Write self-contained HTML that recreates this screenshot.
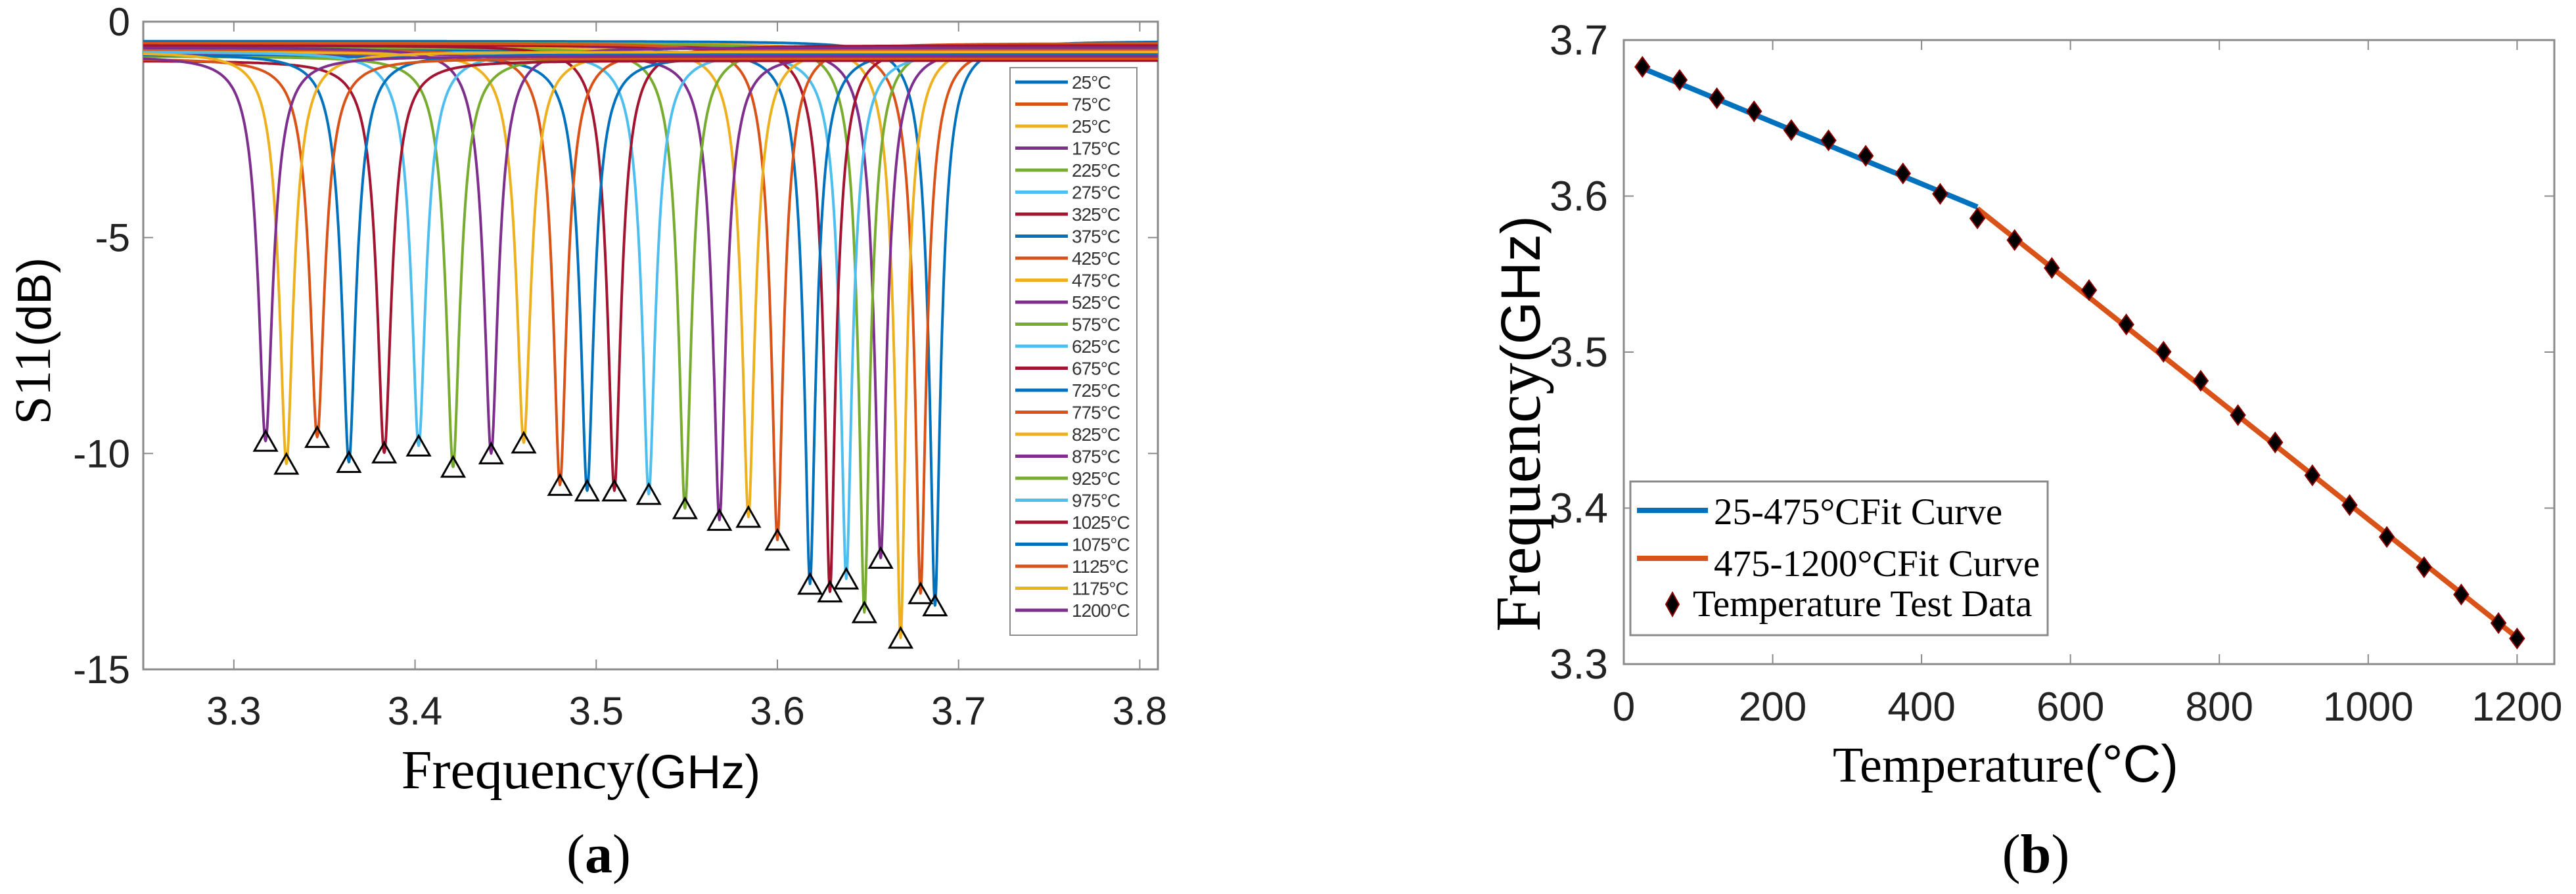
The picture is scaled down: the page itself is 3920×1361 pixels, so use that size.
<!DOCTYPE html>
<html><head><meta charset="utf-8"><style>
html,body{margin:0;padding:0;background:#fff;}
svg{display:block;}
.sans{font-family:"Liberation Sans",sans-serif;}
.serif{font-family:"Liberation Serif",serif;}
</style></head><body>
<svg id="fig" xmlns="http://www.w3.org/2000/svg" width="3920" height="1361" viewBox="0 0 3920 1361">
<defs>
<clipPath id="clipA"><rect x="218" y="33" width="1544" height="986"/></clipPath>
<clipPath id="clipB"><rect x="2471" y="61" width="1416" height="950"/></clipPath>
</defs>
<g id="chartA">
  <rect x="218" y="33" width="1544" height="986" fill="#fff" stroke="#8a8a8a" stroke-width="3"/>
  <g id="curvesA" clip-path="url(#clipA)"></g>
  <g id="markersA"></g>
  <g id="ticksA"></g>
  <g id="legendA"></g>
  <text x="58" y="519" transform="rotate(-90 58 519)" text-anchor="middle" dominant-baseline="middle"><tspan class="serif" font-size="78">S11</tspan><tspan class="sans" font-size="72">(dB)</tspan></text>
  <text x="884" y="1200" text-anchor="middle"><tspan class="serif" font-size="84">Frequency</tspan><tspan class="sans" font-size="72">(GHz)</tspan></text>
  <text x="911" y="1328" text-anchor="middle" class="serif" font-size="84">(<tspan font-weight="bold">a</tspan>)</text>
</g>
<g id="chartB">
  <rect x="2471" y="61" width="1416" height="950" fill="#fff" stroke="#8a8a8a" stroke-width="3"/>
  <g id="linesB" clip-path="url(#clipB)"></g>
  <g id="pointsB"></g>
  <g id="ticksB"></g>
  <g>
    <rect x="2481" y="733" width="635" height="234" fill="#fff" stroke="#8a8a8a" stroke-width="3"/>
    <line x1="2491" y1="777" x2="2599" y2="777" stroke="#0072BD" stroke-width="8"/>
    <text x="2608" y="798" class="serif" font-size="57">25-475°CFit Curve</text>
    <line x1="2491" y1="850" x2="2599" y2="850" stroke="#D95319" stroke-width="8"/>
    <text x="2608" y="877" class="serif" font-size="57">475-1200°CFit Curve</text>
    <path d="M2545 902 L2555 920 L2545 938 L2535 920 Z" fill="#000" stroke="#8b0000" stroke-width="2"/>
    <text x="2576" y="938" class="serif" font-size="57">Temperature Test Data</text>
  </g>
  <text x="2343" y="645" transform="rotate(-90 2343 645)" text-anchor="middle"><tspan class="serif" font-size="97">Frequency</tspan><tspan class="sans" font-size="84">(GHz)</tspan></text>
  <text x="3052" y="1190" text-anchor="middle"><tspan class="serif" font-size="76">Temperature</tspan><tspan class="sans" font-size="80">(°C)</tspan></text>
  <text x="3098" y="1328" text-anchor="middle" class="serif" font-size="84">(<tspan font-weight="bold">b</tspan>)</text>
</g>
</svg>
<script>
// ---- Chart A data ----
const tempLabels = ["25°C","75°C","25°C","175°C","225°C","275°C","325°C","375°C","425°C","475°C","525°C","575°C","625°C","675°C","725°C","775°C","825°C","875°C","925°C","975°C","1025°C","1075°C","1125°C","1175°C","1200°C"];
// resonance frequency (GHz) per legend entry, 25°C first
const dipFreq = [3.687,3.679,3.668,3.657,3.648,3.638,3.629,3.618,3.600,3.584,3.568,3.549,3.529,3.510,3.495,3.480,3.460,3.442,3.421,3.402,3.383,3.3635,3.346,3.329,3.3175];
const dipDepth = [-13.52,-13.24,-14.27,-12.42,-13.68,-12.9,-13.2,-13.02,-12.0,-11.47,-11.54,-11.27,-10.94,-10.86,-10.86,-10.73,-9.75,-10.0,-10.31,-9.82,-9.98,-10.2,-9.62,-10.24,-9.71];
const baseDb = [-0.45,-0.55,-0.5,-0.6,-0.5,-0.7,-0.55,-0.65,-0.5,-0.6,-0.75,-0.6,-0.7,-0.55,-0.8,-0.65,-0.7,-0.6,-0.8,-0.7,-0.9,-0.75,-0.85,-0.7,-0.8];
const xTicksA = [3.3,3.4,3.5,3.6,3.7,3.8];
const yTicksA = [0,-5,-10,-15];
const colors = ["#0072BD","#D95319","#EDB120","#7E2F8E","#77AC30","#4DBEEE","#A2142F"];

// ---- Chart B data ----
const temps = [25,75,125,175,225,275,325,375,425,475,525,575,625,675,725,775,825,875,925,975,1025,1075,1125,1175,1200];
const freqs = [3.6828,3.6744,3.6627,3.6543,3.6423,3.6357,3.6258,3.6145,3.6014,3.5857,3.5718,3.5539,3.5397,3.5177,3.5002,3.4816,3.4596,3.4421,3.4210,3.4019,3.3815,3.3621,3.3446,3.3263,3.3164];
const fitLowT = [25,475];
const fitLowF = [3.682,3.593];
const fitHighT = [475,1200];
const fitHighF = [3.592,3.317];
const xTicksB = [0,200,400,600,800,1000,1200];
const yTicksB = [3.3,3.4,3.5,3.6,3.7];

const NS = "http://www.w3.org/2000/svg";
function mk(tag, attrs, parent){const e=document.createElementNS(NS,tag);for(const k in attrs)e.setAttribute(k,attrs[k]);parent.appendChild(e);return e;}

const xA = f => 218 + (f-3.25)/0.56*1544;
const yA = d => 33 + (-d)/15*986;
const xB = t => 2471 + t/1250*1416;
const yB = f => 61 + (3.7-f)/0.4*950;

const curvesA = document.getElementById('curvesA');
for (let i=0;i<dipFreq.length;i++){
  const minLin = Math.pow(10, dipDepth[i]/10);
  const bLin = Math.pow(10, baseDb[i]/10);
  const A = bLin - minLin;
  const w = 0.0085;
  const fs = [];
  for (let k=0; k<=1450; k++) fs.push(3.24 + k*0.0004);
  fs.push(dipFreq[i]);
  fs.sort((a,b)=>a-b);
  let d = "";
  fs.forEach(f=>{
    const u=(f-dipFreq[i])/w;
    const lin = bLin - A/(1+u*u);
    const db = 10*Math.log10(lin);
    d += (d?"L":"M")+xA(f).toFixed(1)+" "+yA(db).toFixed(1);
  });
  const p = mk('path',{d:d,fill:"none",stroke:colors[i%7],"stroke-width":4,"stroke-linejoin":"round"},curvesA);
  
  
}
const markersA = document.getElementById('markersA');
for (let i=0;i<dipFreq.length;i++){
  const cx=xA(dipFreq[i]), cy=yA(dipDepth[i]);
  const t = mk('path',{d:`M${cx} ${cy-15} L${cx+17} ${cy+15} L${cx-17} ${cy+15} Z`,fill:"none",stroke:"#000","stroke-width":3},markersA);
  
  
}
const ticksA = document.getElementById('ticksA');
xTicksA.forEach(v=>{
  const x=xA(v);
  mk('line',{x1:x,y1:1019,x2:x,y2:1004,stroke:"#8a8a8a","stroke-width":2},ticksA);
  mk('line',{x1:x,y1:33,x2:x,y2:48,stroke:"#8a8a8a","stroke-width":2},ticksA);
  const t=mk('text',{x:x,y:1103,"text-anchor":"middle","font-size":60,class:"sans",fill:"#222"},ticksA);
  t.textContent=v.toFixed(1);
  
  
});
yTicksA.forEach(v=>{
  const y=yA(v);
  mk('line',{x1:218,y1:y,x2:233,y2:y,stroke:"#8a8a8a","stroke-width":2},ticksA);
  mk('line',{x1:1762,y1:y,x2:1747,y2:y,stroke:"#8a8a8a","stroke-width":2},ticksA);
  const t=mk('text',{x:198,y:y+21,"text-anchor":"end","font-size":60,class:"sans",fill:"#222"},ticksA);
  t.textContent=String(v);
  
  
});
const legendA = document.getElementById('legendA');
const lb = mk('rect',{x:1537,y:103,width:193,height:864,fill:"#fff",stroke:"#8a8a8a","stroke-width":2},legendA);


tempLabels.forEach((lab,i)=>{
  const y=125+i*33.5;
  const l=mk('line',{x1:1545,y1:y,x2:1625,y2:y,stroke:colors[i%7],"stroke-width":5},legendA);
  
  
  const t=mk('text',{x:1631,y:y+10,"font-size":28,class:"sans",fill:"#333","letter-spacing":"-1"},legendA);
  t.textContent=lab;
  
  
});

const linesB=document.getElementById('linesB');
const l1=mk('line',{x1:xB(fitLowT[0]),y1:yB(fitLowF[0]),x2:xB(fitLowT[1]),y2:yB(fitLowF[1]),stroke:"#0072BD","stroke-width":8},linesB);


const l2=mk('line',{x1:xB(fitHighT[0]),y1:yB(fitHighF[0]),x2:xB(fitHighT[1]),y2:yB(fitHighF[1]),stroke:"#D95319","stroke-width":8},linesB);


const pointsB=document.getElementById('pointsB');
temps.forEach((t,i)=>{
  const cx=xB(t), cy=yB(freqs[i]);
  const p=mk('path',{d:`M${cx} ${cy-15} L${cx+11} ${cy} L${cx} ${cy+15} L${cx-11} ${cy} Z`,fill:"#000",stroke:"#8b0000","stroke-width":2},pointsB);
  
  
});
const ticksB=document.getElementById('ticksB');
xTicksB.forEach(v=>{
  const x=xB(v);
  mk('line',{x1:x,y1:1011,x2:x,y2:996,stroke:"#8a8a8a","stroke-width":2},ticksB);
  mk('line',{x1:x,y1:61,x2:x,y2:76,stroke:"#8a8a8a","stroke-width":2},ticksB);
  const t=mk('text',{x:x,y:1097,"text-anchor":"middle","font-size":62,class:"sans",fill:"#222"},ticksB);
  t.textContent=String(v);
  
  
});
yTicksB.forEach(v=>{
  const y=yB(v);
  mk('line',{x1:2471,y1:y,x2:2486,y2:y,stroke:"#8a8a8a","stroke-width":2},ticksB);
  mk('line',{x1:3887,y1:y,x2:3872,y2:y,stroke:"#8a8a8a","stroke-width":2},ticksB);
  const t=mk('text',{x:2447,y:y+22,"text-anchor":"end","font-size":64,class:"sans",fill:"#222"},ticksB);
  t.textContent=v.toFixed(1);
  
  
});
</script>
</body></html>
